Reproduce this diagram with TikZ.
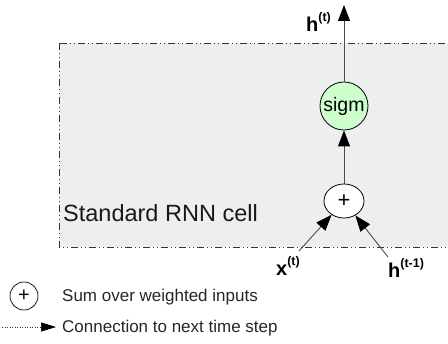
\documentclass[tikz,border=0pt]{standalone}
\usepackage{fontspec}
\setmainfont{Liberation Sans}
\usetikzlibrary{arrows.meta,shapes.geometric}
\definecolor{cellgray}{HTML}{EEEEEE}
\definecolor{sigmgreen}{HTML}{CCFFCC}
\newcommand{\suplbl}[2]{#1\raisebox{0.5em}{\fontsize{12.5}{14}\selectfont #2}}
\tikzset{
  conn/.style={draw=black!70, line width=0.9pt, -{Triangle[length=16pt,width=12pt,color=black,fill=black]}},
  cellborder/.style={draw=black!80, line width=0.9pt, dash pattern=on 7pt off 3pt on 1pt off 3pt on 1pt off 3pt},
  lbl/.style={font=\fontsize{20}{22}\selectfont\bfseries, inner sep=0pt, anchor=base west},
  legtext/.style={font=\fontsize{17}{20}\selectfont, inner sep=0pt, anchor=base west, text=black!85},
}
\begin{document}
\begin{tikzpicture}[x=1pt,y=1pt]
\useasboundingbox (0,0) rectangle (448,-344);
\clip (0,0) rectangle (448,-344);
% cell box
\path[fill=cellgray, cellborder] (59,-43) rectangle (480,-247);
\node[anchor=base west, inner sep=0pt, font=\fontsize{23.5}{28}\selectfont, text=black!90] (title) at (63,-222) {Standard RNN cell};
% nodes
\node[circle, draw=black, fill=sigmgreen, line width=0.8pt, minimum size=48pt, inner sep=0pt, font=\fontsize{19.5}{22}\selectfont] (sigm) at (344,-106) {sigm};
\node[ellipse, draw=black, fill=white, line width=0.8pt, minimum width=40pt, minimum height=34pt, inner sep=0pt, font=\fontsize{22}{22}\selectfont] (plus) at (344,-201) {+};
\coordinate (top) at (344,-5);
\node[lbl] (ht) at (306,-32) {\suplbl{h}{(t)}};
\node[lbl] (xt) at (276,-276) {\suplbl{x}{(t)}};
\node[lbl] (hp) at (388,-278) {\suplbl{h}{(t-1)}};
\coordinate (xs) at (299,-251);
\coordinate (hs) at (388,-257);
% connectors
\draw[conn] (plus) -- (sigm);
\draw[conn] (sigm) -- (top);
\draw[conn] (xs) -- (plus);
\draw[conn] (hs) -- (plus);
% legend
\node[circle, draw=black, line width=0.7pt, minimum size=28pt, inner sep=0pt, font=\fontsize{20}{20}\selectfont] (legplus) at (24,-296) {+};
\node[legtext] (legsum) at (62,-302) {Sum over weighted inputs};
\coordinate (dotstart) at (2,-327);
\coordinate (dotend) at (56,-327);
\draw[black!80, line width=0.7pt, dash pattern=on 1pt off 1.5pt, -{Triangle[length=15pt,width=9pt,color=black,fill=black]}] (dotstart) -- (dotend);
\node[legtext] (legconn) at (62,-333) {Connection to next time step};
\end{tikzpicture}
\end{document}
